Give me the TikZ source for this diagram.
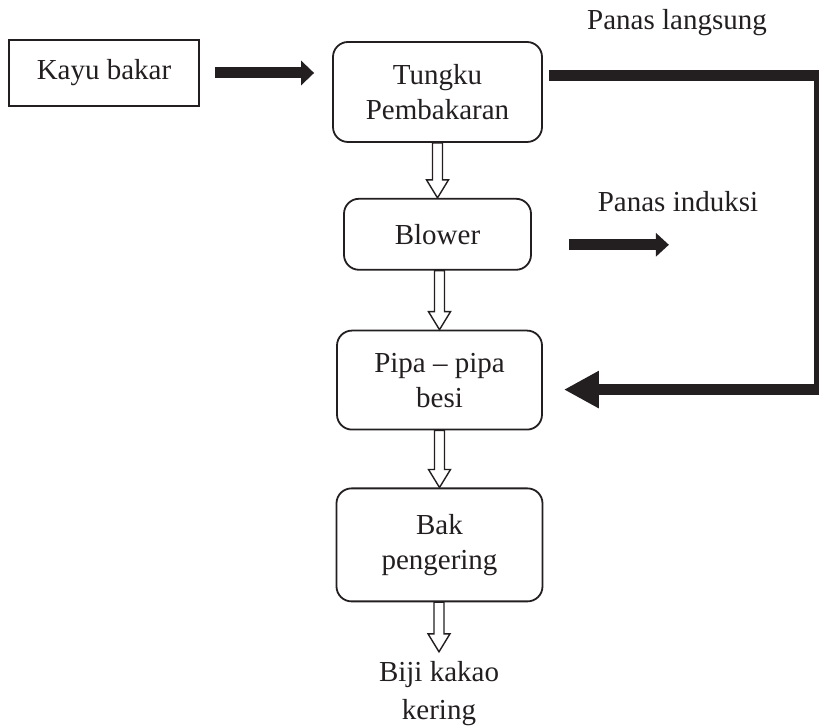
\documentclass[tikz,border=0pt]{standalone}
\usepackage{fontspec}
\setmainfont{Liberation Serif}
\usetikzlibrary{arrows.meta,positioning,calc}
\definecolor{ink}{RGB}{35,31,32}

% open block arrow straight down from #1 onto #2
\newcommand{\hollowarrow}[2]{%
  \draw[hollow] ($(#2 |- #1)+(-5pt,0)$) -- ($(#2)+(-5pt,18pt)$) -- ++(-6pt,0)
    -- (#2) -- ($(#2)+(11pt,18pt)$) -- ++(-6pt,0) -- ($(#2 |- #1)+(5pt,0)$) -- cycle;}

\begin{document}
\begin{tikzpicture}[x=1pt,y=1pt,font=\fontsize{29}{35}\selectfont,
  color=ink,
  box/.style={draw,line width=1.8pt,align=center,inner sep=0pt},
  proc/.style={box,rounded corners=15pt},
  fat/.style={line width=11pt},
  hollow/.style={line width=1.4pt,fill=white}]
 \useasboundingbox (0,0) rectangle (819,727);

 \node[box,minimum width=190pt,minimum height=66pt] (kayu) at (104,654) {Kayu bakar};
 \node[proc,minimum width=209pt,minimum height=100pt] (tungku) at (437.5,635) {Tungku\\Pembakaran};
 \node[proc,minimum width=187pt,minimum height=71pt] (blower) [below=55pt of tungku] {Blower};
 \node[proc,minimum width=205pt,minimum height=99pt] (pipa) [below=59pt of blower,xshift=2pt] {Pipa -- pipa\\besi};
 \node[proc,minimum width=206pt,minimum height=113pt] (bak) [below=57pt of pipa] {Bak\\pengering};
 \node[align=center,inner sep=0pt,outer sep=10pt,font=\fontsize{29}{38}\selectfont]
      (biji) at (439,33) {Biji kakao\\kering};

 \node (langsung) at (677,704) {Panas langsung};
 \node (induksi) at (678,525) {Panas induksi};
 \coordinate (heat) at ([xshift=137pt,yshift=-10.5pt]blower.east);

 % heat and fuel flows
 \draw[fat,-{Triangle[length=13pt,width=24pt]},shorten <=15pt,shorten >=18pt]
   (kayu.east) -- (kayu.east -| tungku.west);
 \draw[fat,-{Triangle[length=35pt,width=35pt]},shorten <=6pt,shorten >=21pt]
   ([yshift=16.5pt]tungku.east) -- ++(277pt,0) |- ([yshift=-9.5pt]pipa.east);
 \draw[fat,-{Triangle[length=13pt,width=23pt]},shorten <=37pt]
   ([yshift=-10.5pt]blower.east) -- (heat);

 % air flow down the dryer
 \hollowarrow{tungku.south}{blower.north}
 \hollowarrow{blower.south}{pipa.north}
 \hollowarrow{pipa.south}{bak.north}
 \hollowarrow{bak.south}{biji.north}
\end{tikzpicture}
\end{document}
